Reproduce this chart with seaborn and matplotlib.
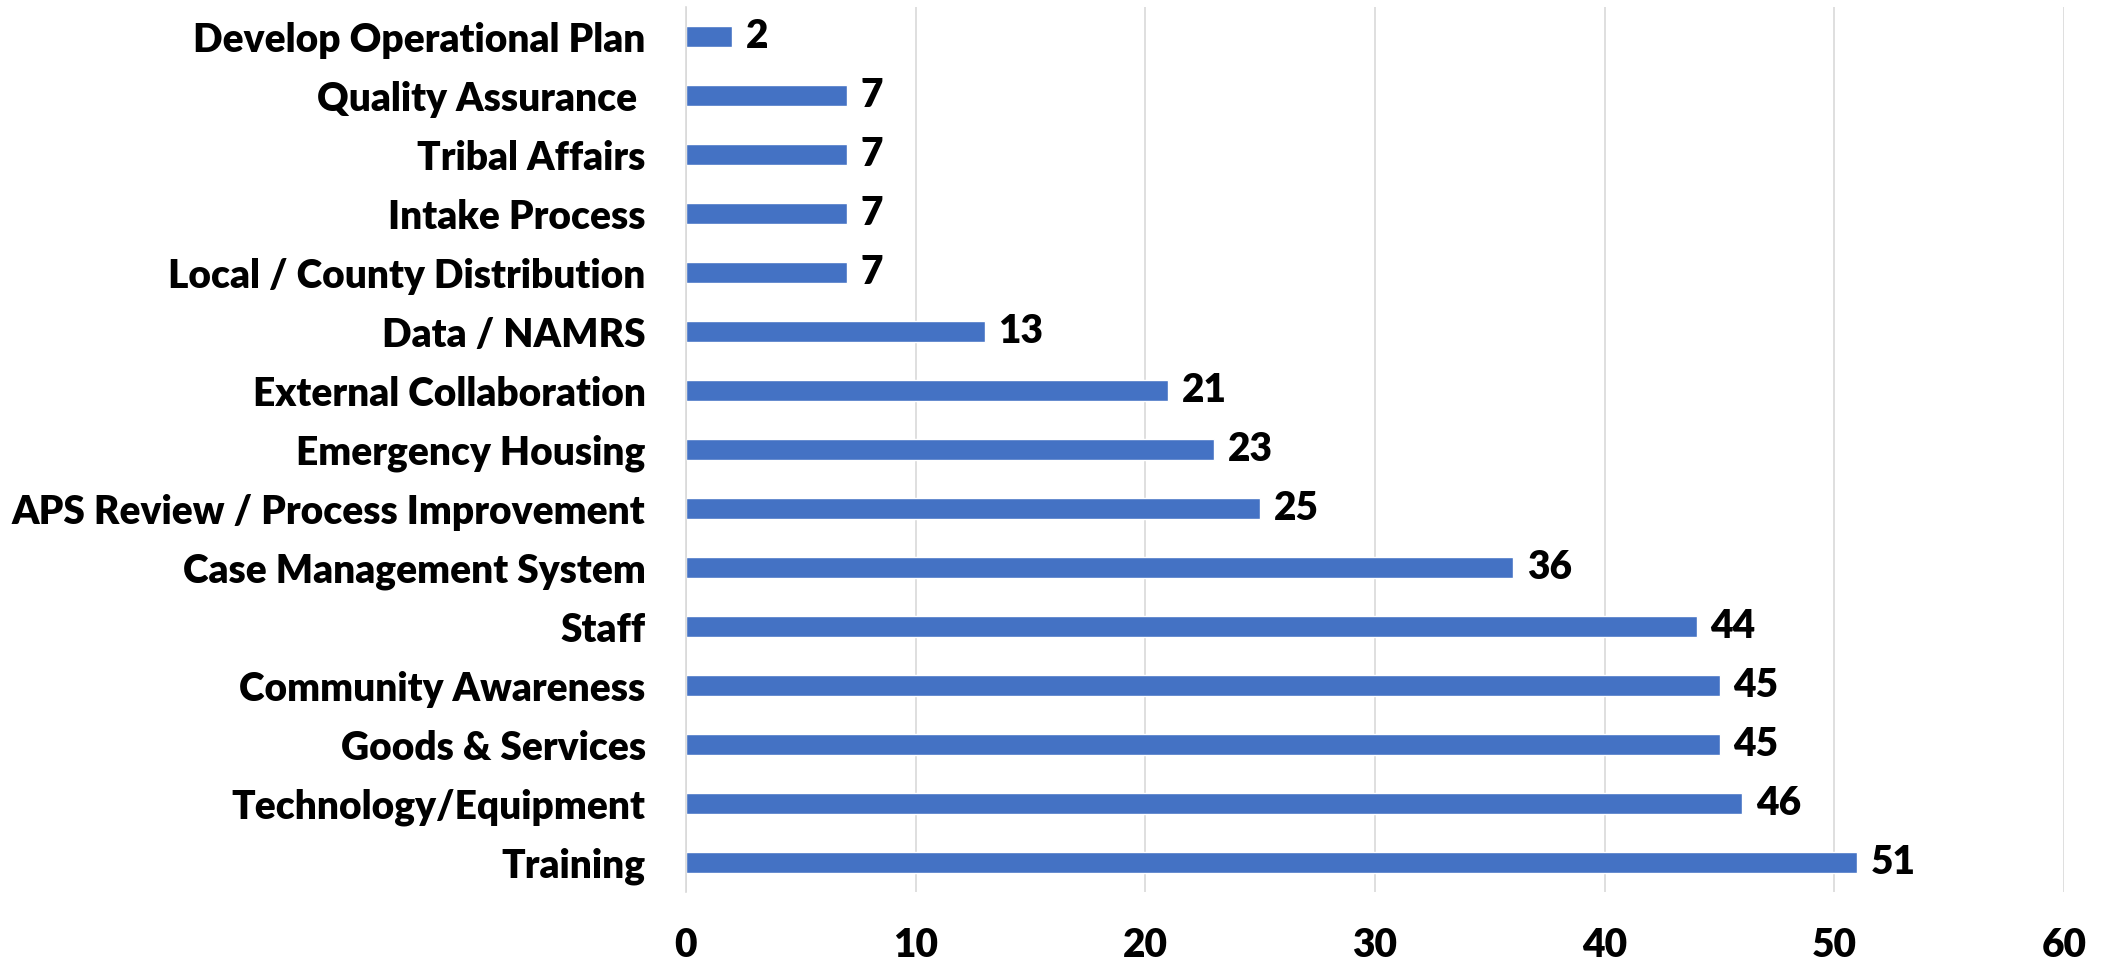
import matplotlib
matplotlib.use("Agg")
import matplotlib.pyplot as plt
import seaborn as sns
import pandas as pd

categories = [
    "Develop Operational Plan",
    "Quality Assurance ",
    "Tribal Affairs",
    "Intake Process",
    "Local / County Distribution",
    "Data / NAMRS",
    "External Collaboration",
    "Emergency Housing",
    "APS Review / Process Improvement",
    "Case Management System",
    "Staff",
    "Community Awareness",
    "Goods & Services",
    "Technology/Equipment",
    "Training",
]
values = [2, 7, 7, 7, 7, 13, 21, 23, 25, 36, 44, 45, 45, 46, 51]
x_ticks = [0, 10, 20, 30, 40, 50, 60]

sns.set_style("white")
plt.rcParams["font.family"] = ["Lato", "DejaVu Sans"]
plt.rcParams["text.color"] = "black"
plt.rcParams["xtick.color"] = "black"
plt.rcParams["ytick.color"] = "black"

FS = 28
WT = "heavy"

df = pd.DataFrame({"Category": categories, "Count": values})

fig = plt.figure(figsize=(21.01, 9.65), dpi=100)
ax = fig.add_axes([0.3265, 0.0756, 0.9824 - 0.3265, 0.9927 - 0.0756])

sns.barplot(data=df, x="Count", y="Category", order=categories,
            color="#4472C4", saturation=1, width=0.36, ax=ax)

for c in ax.containers:
    ax.bar_label(c, padding=10, fontsize=FS, fontweight=WT, color="black")

ax.set_xlim(0, 60)
ax.set_xticks(x_ticks)
ax.set_xlabel("")
ax.set_ylabel("")
ax.xaxis.grid(True, color="#d9d9d9", linewidth=1.2)
ax.set_axisbelow(True)
for s in ["top", "right", "bottom"]:
    ax.spines[s].set_visible(False)
ax.spines["left"].set_color("#d9d9d9")
ax.spines["left"].set_linewidth(1.2)
ax.tick_params(axis="y", length=0, pad=29, labelsize=FS)
ax.tick_params(axis="x", length=0, pad=25, labelsize=FS)
for t in ax.get_yticklabels() + ax.get_xticklabels():
    t.set_fontweight(WT)

fig.savefig("out.png", dpi=100)
plt.close(fig)
